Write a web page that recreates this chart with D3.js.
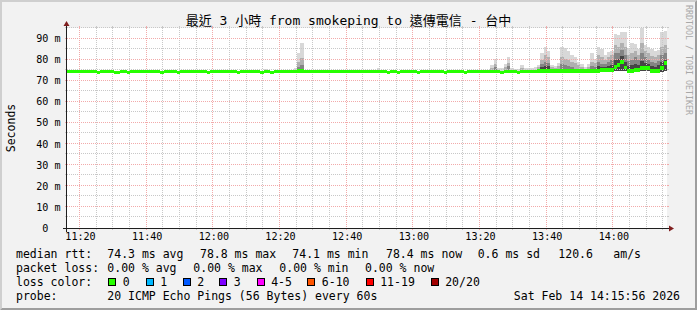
<!DOCTYPE html>
<html>
<head>
<meta charset="utf-8">
<title>smokeping - 遠傳電信 台中</title>
<script src="https://cdn.jsdelivr.net/npm/d3@7"></script>
<style>
    body { margin: 0; background: #ffffff; }
    #chart-area { width: 697px; height: 310px; }
    text { font-family: 'DejaVu Sans Mono', 'Noto Sans CJK TC', monospace; }
</style>
</head>
<body>
<div id="chart-area"></div>
<script>
// values (rtt in ms, one column per 60 s step)
const title = '最近 3 小時 from smokeping to 遠傳電信 - 台中';
const unitLabel = 'Seconds';
const watermark = 'RRDTOOL / TOBI OETIKER';
const startTime = new Date(2026, 1, 14, 11, 16, 6);
const stepSeconds = 60;
const yMax = 95;
const yTicks = [0, 10, 20, 30, 40, 50, 60, 70, 80, 90];
const yMinorTicks = [5, 15, 25, 35, 45, 55, 65, 75, 85, 95];
const xTickLabels = ['11:20', '11:40', '12:00', '12:20', '12:40', '13:00', '13:20', '13:40', '14:00'];

const median = [
    74.3, 74.3, 74.3, 74.3, 74.3, 74.3, 74.3, 74.3, 74.3, 73.9, 74.3, 74.3, 74.3, 74.3, 73.9, 73.9, 74.3, 74.3, 73.9, 74.3,
    74.3, 74.3, 74.3, 74.3, 74.3, 74.3, 74.3, 74.3, 73.9, 74.3, 74.3, 74.3, 74.3, 73.9, 74.3, 74.3, 74.3, 74.3, 74.3, 74.3,
    74.3, 74.3, 73.9, 74.3, 74.3, 74.3, 74.3, 74.3, 74.3, 74.3, 74.3, 73.9, 74.3, 74.3, 74.3, 74.3, 74.3, 74.3, 73.9, 74.3,
    74.3, 73.9, 74.3, 74.3, 74.3, 74.3, 74.3, 74.3, 74.3, 74.4, 74.4, 74.3, 74.3, 74.3, 74.3, 74.3, 74.3, 74.3, 74.3, 74.3,
    74.3, 74.3, 74.3, 74.3, 74.3, 74.3, 74.3, 74.3, 74.3, 74.3, 74.3, 74.3, 74.3, 74.3, 74.3, 74.3, 73.9, 74.3, 74.3, 73.9,
    74.3, 74.3, 74.3, 74.3, 74.3, 73.9, 74.3, 74.3, 74.3, 74.3, 74.3, 74.3, 74.3, 73.9, 74.3, 74.3, 74.3, 74.3, 74.3, 73.9,
    74.3, 74.3, 74.3, 74.3, 74.3, 74.3, 74.3, 74.3, 74.3, 74.3, 73.9, 74.3, 74.3, 74.3, 74.3, 73.9, 74.3, 74.3, 74.3, 74.3,
    74.3, 74.5, 74.5, 74.5, 74.5, 74.5, 74.5, 74.5, 74.5, 74.5, 74.5, 74.7, 74.7, 74.7, 74.7, 74.7, 74.7, 74.7, 74.6, 74.6,
    75.1, 75.1, 75.1, 75.1, 76.5, 77.5, 78.8, 76.2, 74.4, 74.4, 74.9, 74.9, 76.0, 76.0, 76.0, 74.4, 74.4, 74.4, 76.0, 78.4
];

// smoke: columns that show spread, lowest ping and the top of each shade (light -> dark)
const smokeColumns = [59, 68, 69, 70, 93,
    127, 128, 129, 130, 131, 132, 133, 134, 135, 136, 137, 138, 139,
    140, 141, 142, 143, 144, 145, 146, 147, 148, 149, 150, 151, 152, 153, 154, 155, 156, 157, 158, 159,
    160, 161, 162, 163, 164, 165, 166, 167, 168, 169, 170, 171, 172, 173, 174, 175, 176, 177, 178, 179];
const smokeLow = [74.0, 74.0, 74.0, 74.0, 74.0,
    73.9, 73.9, 73.9, 73.7, 73.9, 73.9, 73.9, 74.0, 74.0, 74.0, 74.0, 74.0, 74.0,
    74.0, 74.0, 74.0, 74.0, 74.0, 74.1, 74.1, 74.1, 74.1, 74.1, 74.1, 74.2, 74.2, 74.2, 74.2, 74.2, 74.2, 74.2, 74.2, 74.2,
    74.3, 74.3, 74.3, 74.3, 74.4, 74.4, 74.5, 74.4, 74.2, 74.2, 74.3, 74.3, 74.4, 74.4, 74.4, 74.2, 74.2, 74.2, 74.3, 74.4];
const smokeBand1 = [75.4, 76.0, 83, 88, 75.8,
    77.4, 80.1, 76, 76.2, 77.8, 81.1, 76, 75.5, 75.5, 77.4, 76.2, 75.8, 75.8,
    76.5, 77.4, 83, 86, 84, 77.5, 77, 78.5, 86, 85.5, 84, 82, 81, 79, 78, 76.5, 78, 83, 80.5, 86,
    85, 82, 83.5, 84, 92, 91.5, 93, 93.2, 85.5, 88, 87.5, 85, 94.8, 87, 86, 85, 84, 84.5, 93, 93.5];
const smokeBand2 = [null, null, 79, 80.6, null,
    76, 78, null, null, 76.5, 78.5, null, null, null, 76, null, null, null,
    null, 76.5, 80, 82, 81, 76.5, 76, 77, 81, 80.5, 80, 79, 78.5, 77.5, 76.5, null, 76.5, 79, 78.5, 82,
    81, 80, 81, 82, 87, 86, 88, 86, 82, 83, 84, 82, 88, 84, 83, 81.5, 81, 82, 86, 87];
const smokeBand3 = [null, null, 76.5, 77.4, null,
    null, 76.5, null, null, null, 77, null, null, null, null, null, null, null,
    null, null, 78, 79, 78.5, null, null, null, 78, 77.5, 77, 76.5, null, null, null, null, null, 77, 76.5, 79,
    78, 78, 79, 80, 83, 83, 84.5, 82, 79.5, 80, 81, 80, 83, 81, 80, 79, 78.5, 79.5, 82, 83];
const smokeBand4 = [null, null, null, null, null,
    null, null, null, null, null, null, null, null, null, null, null, null, null,
    null, null, 76.5, 77, 76.8, null, null, null, null, null, null, null, null, null, null, null, null, null, null, 77,
    76.5, 76.5, 77, 77.5, 80, 80.5, 81.5, 79, 77, 77.5, 78, 77.5, 79.5, 78.5, 78, 77, 76.5, 77.5, 79, 80];

const legendHeads = ['median rtt:', 'packet loss:', 'loss color:', 'probe:'];
const rttLegend = ['74.3 ms avg', '78.8 ms max', '74.1 ms min', '78.4 ms now', '0.6 ms sd', '120.6', 'am/s'];
const lossLegend = ['0.00 % avg', '0.00 % max', '0.00 % min', '0.00 % now'];
const lossLabels = ['0', '1', '2', '3', '4-5', '6-10', '11-19', '20/20'];
const lossColors = ['#26ff00', '#00b8ff', '#0059ff', '#7e00ff', '#ff00ff', '#ff5500', '#ff0000', '#a10000'];
const probeText = '20 ICMP Echo Pings (56 Bytes) every 60s';
const stampText = 'Sat Feb 14 14:15:56 2026';

;(function () {
    'use strict';

    const WIDTH = 697;
    const HEIGHT = 310;
    const PLOT = {left: 67, right: 667, top: 28, bottom: 228};

    const ROW_Y = [257.5, 271.5, 285.5, 299.5];
    const RTT_X = [107.3, 200, 292.3, 386, 477.7, 558.3, 613.3];
    const LOSS_X = [107.3, 193.3, 279.3, 365];
    const BOX_X = [108.3, 145.7, 182.7, 219.3, 256.7, 307.3, 365.7, 430.7];

    const shades = ['#d8d8d8', '#b0b0b0', '#848484', '#454545'];
    const GRID_COLOR = '#c8c8c8';
    const MGRID_COLOR = '#f2aaaa';

    const colTime = i => new Date(startTime.getTime() + i * stepSeconds * 1000);
    const endTime = colTime(median.length);
    const parseTick = d3.timeParse('%Y-%m-%d %H:%M');

    const svg = d3.select('#chart-area').append('svg')
        .attr('width', WIDTH)
        .attr('height', HEIGHT);

    // background + 3d frame
    svg.append('rect')
        .attr('width', WIDTH)
        .attr('height', HEIGHT)
        .attr('fill', '#f2f2f2');
    svg.append('path')
        .attr('d', `M0,0H${WIDTH}L${WIDTH - 2},2H2V${HEIGHT - 2}L0,${HEIGHT}Z`)
        .attr('fill', '#cfcfcf');
    svg.append('path')
        .attr('d', `M${WIDTH},0V${HEIGHT}H0L2,${HEIGHT - 2}H${WIDTH - 2}V2Z`)
        .attr('fill', '#9e9e9e');

    const x = d3.scaleTime()
        .domain([startTime, endTime])
        .range([PLOT.left, PLOT.right]);
    const y = d3.scaleLinear()
        .domain([0, yMax])
        .range([PLOT.bottom, PLOT.top]);

    svg.append('rect')
        .attr('x', PLOT.left)
        .attr('y', PLOT.top)
        .attr('width', PLOT.right - PLOT.left)
        .attr('height', PLOT.bottom - PLOT.top)
        .attr('fill', '#ffffff');

    // smoke
    const graph = svg.append('g').attr('class', 'graph');
    [smokeBand1, smokeBand2, smokeBand3, smokeBand4].forEach((band, b) => {
        const cells = smokeColumns
            .map((c, k) => ({c: c, lo: smokeLow[k], hi: band[k]}))
            .filter(d => d.hi !== null);
        graph.append('g')
            .attr('fill', shades[b])
            .attr('shape-rendering', 'crispEdges')
            .selectAll('rect')
            .data(cells)
            .enter()
            .append('rect')
            .attr('x', d => x(colTime(d.c)))
            .attr('width', d => x(colTime(d.c + 1)) - x(colTime(d.c)))
            .attr('y', d => y(d.hi))
            .attr('height', d => y(d.lo) - y(d.hi));
    });

    // grid over the smoke
    const grid = svg.append('g')
        .attr('class', 'grid')
        .attr('shape-rendering', 'crispEdges')
        .attr('stroke-width', 1);
    const snap = v => Math.round(v) + 0.5;
    const xTickValues = xTickLabels.map(s => parseTick(`2026-02-14 ${s}`));
    const minorTimes = x.ticks(d3.timeMinute.every(5)).filter(t => t.getMinutes() % 20 !== 0);

    function vLines(times, color) {
        times.forEach(t => {
            const px = snap(x(t)) - 1;
            grid.append('line')
                .attr('x1', px).attr('x2', px)
                .attr('y1', PLOT.top).attr('y2', PLOT.bottom)
                .attr('stroke', color)
                .attr('stroke-dasharray', '1,1');
            grid.append('line')
                .attr('x1', px).attr('x2', px)
                .attr('y1', PLOT.bottom).attr('y2', PLOT.bottom + 2)
                .attr('stroke', color);
            grid.append('line')
                .attr('x1', px).attr('x2', px)
                .attr('y1', PLOT.top - 2).attr('y2', PLOT.top)
                .attr('stroke', color);
        });
    }

    function hLines(values, color) {
        values.forEach(v => {
            const py = snap(y(v)) - 1;
            grid.append('line')
                .attr('x1', PLOT.left).attr('x2', PLOT.right)
                .attr('y1', py).attr('y2', py)
                .attr('stroke', color)
                .attr('stroke-dasharray', '1,1');
            grid.append('line')
                .attr('x1', PLOT.left - 2).attr('x2', PLOT.left)
                .attr('y1', py).attr('y2', py)
                .attr('stroke', color);
            grid.append('line')
                .attr('x1', PLOT.right).attr('x2', PLOT.right + 2)
                .attr('y1', py).attr('y2', py)
                .attr('stroke', color);
        });
    }

    vLines(minorTimes, GRID_COLOR);
    hLines(yMinorTicks, GRID_COLOR);
    vLines(xTickValues, MGRID_COLOR);
    hLines(yTicks.filter(v => v > 0), MGRID_COLOR);

    // median, drawn as a thin band in the 0 loss colour
    const medianPoints = median.map((m, i) => ({t: colTime(i), m: m}));
    medianPoints.push({t: endTime, m: median[median.length - 1]});
    const medianArea = d3.area()
        .curve(d3.curveStepAfter)
        .x(d => x(d.t))
        .y0(d => y(d.m) + 1.9)
        .y1(d => y(d.m) - 1.9);
    svg.append('path')
        .datum(medianPoints)
        .attr('class', 'median')
        .attr('d', medianArea)
        .attr('fill', lossColors[0])
        .attr('shape-rendering', 'crispEdges');

    // axes lines and arrows
    const ax = PLOT.left - 0.5;
    const ay = PLOT.bottom + 0.5;
    svg.append('line')
        .attr('x1', PLOT.left - 4).attr('x2', PLOT.right + 4)
        .attr('y1', ay).attr('y2', ay)
        .attr('stroke', '#1f1f1f')
        .attr('shape-rendering', 'crispEdges');
    svg.append('line')
        .attr('x1', ax).attr('x2', ax)
        .attr('y1', PLOT.bottom + 4).attr('y2', PLOT.top - 4)
        .attr('stroke', '#1f1f1f')
        .attr('shape-rendering', 'crispEdges');
    svg.append('path')
        .attr('d', `M${PLOT.right + 2},${ay - 3}L${PLOT.right + 7},${ay}L${PLOT.right + 2},${ay + 3}Z`)
        .attr('fill', '#801f1f');
    svg.append('path')
        .attr('d', `M${ax - 3},${PLOT.top - 2}L${ax},${PLOT.top - 7}L${ax + 3},${PLOT.top - 2}Z`)
        .attr('fill', '#801f1f');

    // tick labels through d3 axes
    const xAxisCall = d3.axisBottom(x)
        .tickValues(xTickValues)
        .tickSize(0)
        .tickPadding(4.8)
        .tickFormat(d3.timeFormat('%H:%M'));
    svg.append('g')
        .attr('class', 'x-axis-group')
        .attr('transform', `translate(0, ${PLOT.bottom})`)
        .call(xAxisCall)
        .call(g => g.select('.domain').remove())
        .call(g => g.selectAll('line').remove())
        .call(g => g.selectAll('text')
            .attr('font-family', "'DejaVu Sans Mono', monospace")
            .attr('font-size', '10.1px')
            .attr('fill', '#000'));

    const yAxisCall = d3.axisLeft(y)
        .tickValues(yTicks)
        .tickSize(0)
        .tickPadding(6.5)
        .tickFormat(d => d === 0 ? '0\u00a0\u00a0' : `${d} m`);
    svg.append('g')
        .attr('class', 'y-axis-group')
        .attr('transform', `translate(${PLOT.left}, 0)`)
        .call(yAxisCall)
        .call(g => g.select('.domain').remove())
        .call(g => g.selectAll('line').remove())
        .call(g => g.selectAll('text')
            .attr('font-family', "'DejaVu Sans Mono', monospace")
            .attr('font-size', '10.1px')
            .attr('fill', '#000'));

    // title, unit, watermark
    svg.append('text')
        .attr('x', WIDTH / 2)
        .attr('y', 25)
        .attr('text-anchor', 'middle')
        .attr('font-size', '13px')
        .text(title);

    svg.append('text')
        .attr('transform', `translate(11, ${(PLOT.top + PLOT.bottom) / 2}) rotate(-90)`)
        .attr('text-anchor', 'middle')
        .attr('dominant-baseline', 'central')
        .attr('font-size', '11.5px')
        .text(unitLabel);

    svg.append('text')
        .attr('transform', 'translate(688.5, 5) rotate(90)')
        .attr('dominant-baseline', 'central')
        .attr('font-size', '8.3px')
        .attr('fill', '#a8a8a8')
        .text(watermark);

    // legend
    const legend = svg.append('g')
        .attr('class', 'legend')
        .attr('font-size', '11.5px');

    legendHeads.forEach((h, i) => {
        legend.append('text')
            .attr('x', 16)
            .attr('y', ROW_Y[i])
            .text(h);
    });

    rttLegend.forEach((s, i) => {
        legend.append('text')
            .attr('x', RTT_X[i])
            .attr('y', ROW_Y[0])
            .text(s);
    });

    lossLegend.forEach((s, i) => {
        legend.append('text')
            .attr('x', LOSS_X[i])
            .attr('y', ROW_Y[1])
            .text(s);
    });

    lossLabels.forEach((s, i) => {
        legend.append('rect')
            .attr('x', BOX_X[i] + 0.5)
            .attr('y', ROW_Y[2] - 7)
            .attr('width', 7)
            .attr('height', 7)
            .attr('fill', lossColors[i])
            .attr('stroke', '#000')
            .attr('shape-rendering', 'crispEdges');
        legend.append('text')
            .attr('x', BOX_X[i] + 14.5)
            .attr('y', ROW_Y[2])
            .text(s);
    });

    legend.append('text')
        .attr('x', 107.3)
        .attr('y', ROW_Y[3])
        .text(probeText);
    legend.append('text')
        .attr('x', 680)
        .attr('y', ROW_Y[3])
        .attr('text-anchor', 'end')
        .text(stampText);
})();
</script>
</body>
</html>
